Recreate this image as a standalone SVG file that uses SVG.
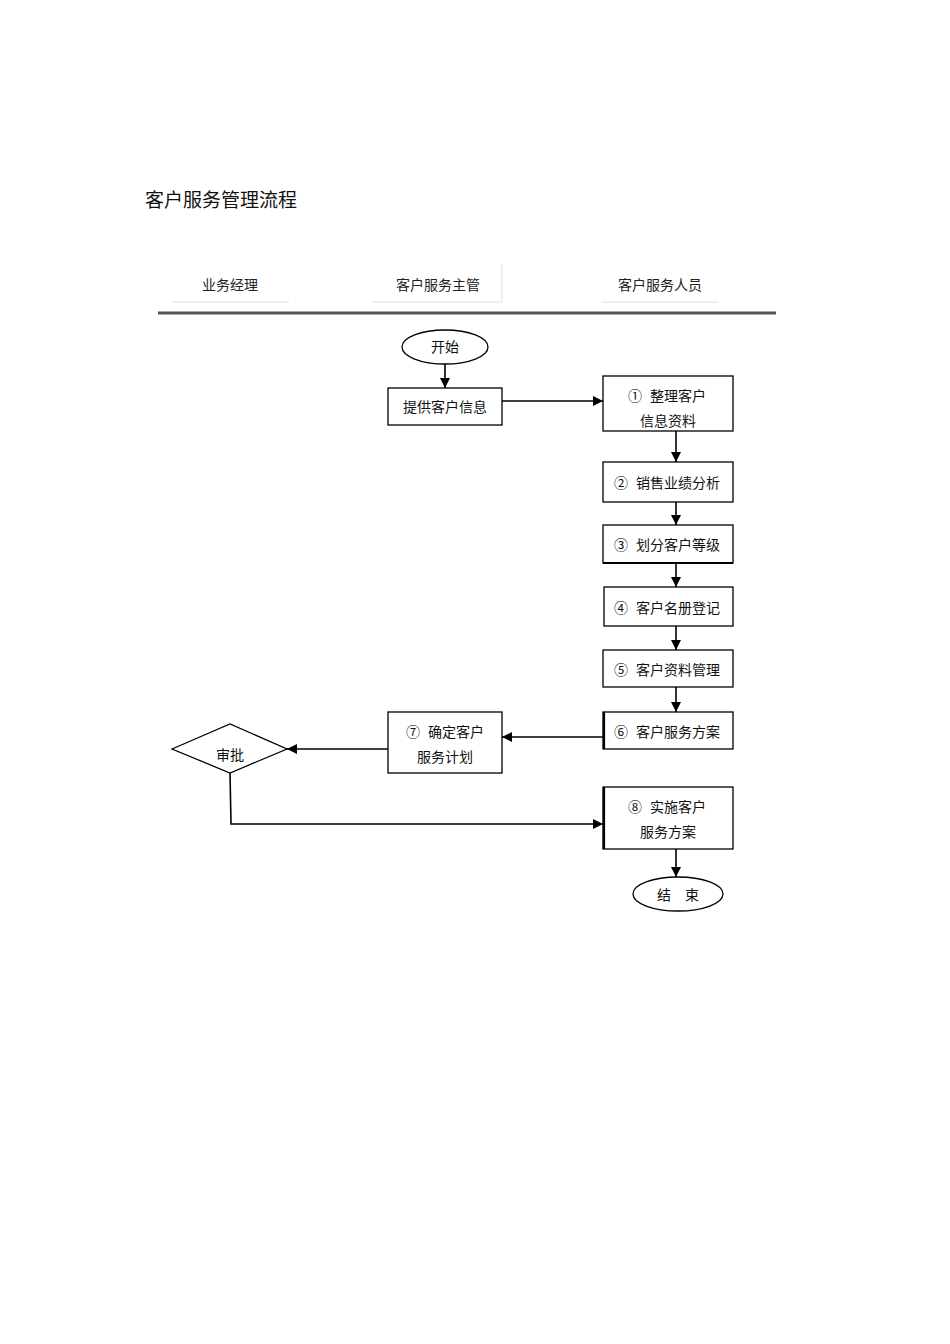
<svg xmlns="http://www.w3.org/2000/svg" width="950" height="1344" viewBox="0 0 950 1344">
  <defs>
    <marker id="arrow" viewBox="0 0 10 10" refX="10" refY="5" markerWidth="10" markerHeight="10" markerUnits="userSpaceOnUse" orient="auto">
      <path d="M0,0 L10,5 L0,10 Z" fill="#000"/>
    </marker>
    <style>
      text { font-family: "Liberation Serif", "Noto Sans CJK SC", serif; fill: #111; }
      .title { font-size: 19px; }
      .lane { font-size: 14px; text-anchor: middle; fill: #222; }
      .lbl { font-size: 14px; text-anchor: middle; }
      .box { fill: #fff; stroke: #000; stroke-width: 1.3; }
      .conn { fill: none; stroke: #000; stroke-width: 1.6; marker-end: url(#arrow); }
      .sep { stroke: #ddd; stroke-width: 1; }
    </style>
  </defs>

  <rect width="950" height="1344" fill="#fff"/>

  <text class="title" x="145" y="207">客户服务管理流程</text>

  <!-- swimlane header -->
  <g id="lanes">
    <text class="lane" x="230" y="290">业务经理</text>
    <text class="lane" x="438" y="290">客户服务主管</text>
    <text class="lane" x="660" y="290">客户服务人员</text>
    <line class="sep" x1="172" y1="302" x2="289" y2="302"/>
    <line class="sep" x1="372" y1="302" x2="502" y2="302"/>
    <line class="sep" x1="502" y1="264" x2="502" y2="302"/>
    <line class="sep" x1="602" y1="302" x2="718" y2="302"/>
    <line x1="158" y1="313" x2="776" y2="313" stroke="#555" stroke-width="3"/>
  </g>

  <!-- connectors -->
  <g id="connectors">
    <line class="conn" x1="445" y1="364" x2="445" y2="388"/>
    <line class="conn" x1="502" y1="401" x2="603" y2="401"/>
    <line class="conn" x1="676" y1="431" x2="676" y2="462"/>
    <line class="conn" x1="676" y1="502" x2="676" y2="525"/>
    <line class="conn" x1="676" y1="563" x2="676" y2="587"/>
    <line class="conn" x1="676" y1="626" x2="676" y2="650"/>
    <line class="conn" x1="676" y1="687" x2="676" y2="712"/>
    <line class="conn" x1="603" y1="737" x2="502" y2="737"/>
    <line class="conn" x1="388" y1="749" x2="287" y2="749"/>
    <polyline class="conn" points="230,773 231,824 603,824"/>
    <line class="conn" x1="676" y1="849" x2="676" y2="877"/>
  </g>

  <g id="start">
    <ellipse class="box" cx="445" cy="347" rx="43" ry="17"/>
    <text class="lbl" x="445" y="352">开始</text>
  </g>

  <g id="provide-info">
    <rect class="box" x="388" y="388" width="114" height="37"/>
    <text class="lbl" x="445" y="412">提供客户信息</text>
  </g>

  <g id="step1">
    <rect class="box" x="603" y="376" width="130" height="55"/>
    <text class="lbl" x="667" y="401">①<tspan dx="8">整理客户</tspan></text>
    <text class="lbl" x="668" y="426">信息资料</text>
  </g>

  <g id="step2">
    <rect class="box" x="603" y="462" width="130" height="40"/>
    <text class="lbl" x="667" y="488">②<tspan dx="8">销售业绩分析</tspan></text>
  </g>

  <g id="step3">
    <rect class="box" x="603" y="525" width="130" height="38"/>
    <line x1="603" y1="563" x2="733" y2="563" stroke="#000" stroke-width="2.2"/>
    <text class="lbl" x="667" y="550">③<tspan dx="8">划分客户等级</tspan></text>
  </g>

  <g id="step4">
    <rect class="box" x="604" y="587" width="129" height="39"/>
    <text class="lbl" x="667" y="613">④<tspan dx="8">客户名册登记</tspan></text>
  </g>

  <g id="step5">
    <rect class="box" x="603" y="650" width="130" height="37"/>
    <text class="lbl" x="667" y="675">⑤<tspan dx="8">客户资料管理</tspan></text>
  </g>

  <g id="step6">
    <rect class="box" x="603" y="712" width="130" height="37"/>
    <line x1="604" y1="712" x2="604" y2="749" stroke="#000" stroke-width="2.2"/>
    <text class="lbl" x="667" y="737">⑥<tspan dx="8">客户服务方案</tspan></text>
  </g>

  <g id="step7">
    <rect class="box" x="388" y="712" width="114" height="61"/>
    <text class="lbl" x="445" y="737">⑦<tspan dx="8">确定客户</tspan></text>
    <text class="lbl" x="445" y="762">服务计划</text>
  </g>

  <g id="approve">
    <polygon class="box" points="172,749 230,724 287,749 230,773"/>
    <text class="lbl" x="230" y="760">审批</text>
  </g>

  <g id="step8">
    <rect class="box" x="603" y="787" width="130" height="62"/>
    <line x1="604" y1="787" x2="604" y2="849" stroke="#000" stroke-width="2.2"/>
    <text class="lbl" x="667" y="812">⑧<tspan dx="8">实施客户</tspan></text>
    <text class="lbl" x="668" y="837">服务方案</text>
  </g>

  <g id="end">
    <ellipse class="box" cx="678" cy="894" rx="45" ry="17"/>
    <text class="lbl" x="678" y="900">结<tspan dx="14">束</tspan></text>
  </g>
</svg>
